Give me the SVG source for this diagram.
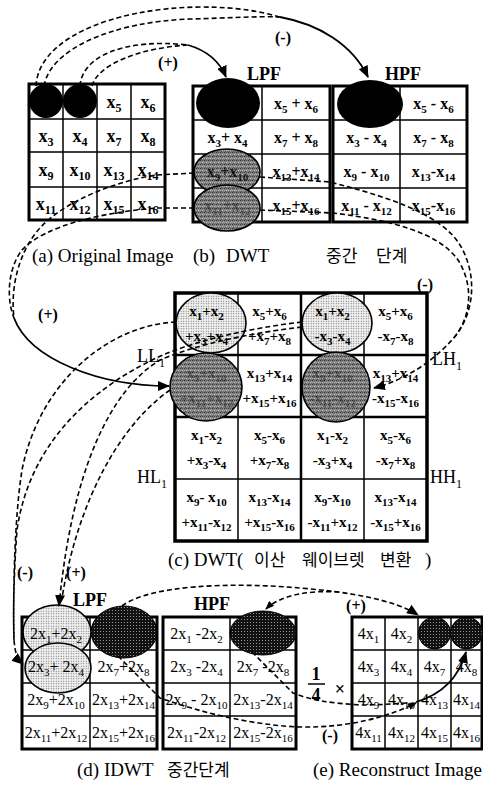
<svg xmlns="http://www.w3.org/2000/svg" width="483" height="788" viewBox="0 0 483 788">
<defs>
<style>
.bg{fill:#fff}
.ob{fill:none;stroke:#000;stroke-width:3}
.ln{fill:none;stroke:#000;stroke-width:1.5}
.lt{fill:none;stroke:#000;stroke-width:2.5}
.t{font-family:"Liberation Serif","Times New Roman",serif;font-weight:bold;text-anchor:middle;fill:#000}
.ta{font-size:18px}
.tb{font-size:16px}
.tc{font-size:15px}
.td{font-size:16px;font-weight:normal}
.s{font-size:11px}
.sa{font-size:12px}
.fade{fill:#222;opacity:0.5}
.lab{font-family:"Liberation Serif","Times New Roman",serif;font-weight:bold;font-size:18px;fill:#000}
.sub{font-family:"Liberation Serif","Times New Roman",serif;font-size:18px;fill:#000}
.pm{font-family:"Liberation Serif","Times New Roman",serif;font-weight:bold;font-size:16px;fill:#000;text-anchor:middle}
.cap{font-family:"Liberation Serif","Times New Roman",serif;font-size:19px;fill:#000}
.kr{font-family:"Noto Sans CJK KR","Noto Sans",sans-serif;font-size:17px;fill:#000}
.dash{fill:none;stroke:#000;stroke-width:1.6;stroke-dasharray:5 3}
.sol{fill:none;stroke:#000;stroke-width:1.8}
.blk{fill:#000}
.lite{fill:url(#lite);stroke:#000;stroke-width:1.6}
.gray{fill:url(#gray);stroke:#000;stroke-width:1.6}
.dark{fill:url(#dark);stroke:#000;stroke-width:1}
</style>
<pattern id="lite" width="2.5" height="2.5" patternUnits="userSpaceOnUse"><rect width="2.5" height="2.5" fill="#f2f2f2"/><circle cx="1.25" cy="1.25" r="0.6" fill="#666"/></pattern>
<pattern id="gray" width="4" height="4" patternUnits="userSpaceOnUse"><rect width="4" height="4" fill="#7c7c7c"/><rect x="0" y="0" width="1" height="1" fill="#333"/><rect x="2" y="2" width="1" height="1" fill="#c8c8c8"/><rect x="2" y="0" width="1" height="1" fill="#4a4a4a"/><rect x="0" y="2" width="1" height="1" fill="#a8a8a8"/><rect x="1" y="3" width="1" height="1" fill="#555"/><rect x="3" y="1" width="1" height="1" fill="#999"/></pattern>
<pattern id="dark" width="3" height="3" patternUnits="userSpaceOnUse"><rect width="3" height="3" fill="#111"/><circle cx="1.5" cy="1.5" r="0.55" fill="#aaa"/></pattern>
<marker id="ah" viewBox="0 0 12 10" refX="11" refY="5" markerWidth="12" markerHeight="10" markerUnits="userSpaceOnUse" orient="auto"><path d="M0,0 L12,5 L0,10 z"/></marker>
<marker id="ahs" viewBox="0 0 10 8" refX="9" refY="4" markerWidth="9" markerHeight="7" markerUnits="userSpaceOnUse" orient="auto-start-reverse"><path d="M0,0 L10,4 L0,8 z"/></marker>
</defs>

<rect width="483" height="788" fill="#fff"/>

<!-- (a) Original image -->
<g id="grid-a">
<rect x="29" y="84" width="136" height="136" class="bg"/>
<path class="ln" d="M63,84V220M97,84V220M131,84V220M29,119H165M29,152H165M29,187H165"/>
<rect x="29" y="84" width="136" height="136" class="ob"/>
<circle cx="46" cy="101" r="17" class="blk"/>
<circle cx="80" cy="101" r="17" class="blk"/>
<text class="t ta" x="114" y="108">x<tspan class="sa" dy="4">5</tspan></text>
<text class="t ta" x="148" y="108">x<tspan class="sa" dy="4">6</tspan></text>
<text class="t ta" x="46" y="142">x<tspan class="sa" dy="4">3</tspan></text>
<text class="t ta" x="80" y="142">x<tspan class="sa" dy="4">4</tspan></text>
<text class="t ta" x="114" y="142">x<tspan class="sa" dy="4">7</tspan></text>
<text class="t ta" x="148" y="142">x<tspan class="sa" dy="4">8</tspan></text>
<text class="t ta" x="46" y="176">x<tspan class="sa" dy="4">9</tspan></text>
<text class="t ta" x="80" y="176">x<tspan class="sa" dy="4">10</tspan></text>
<text class="t ta" x="114" y="176">x<tspan class="sa" dy="4">13</tspan></text>
<text class="t ta" x="148" y="176">x<tspan class="sa" dy="4">14</tspan></text>
<text class="t ta" x="46" y="210">x<tspan class="sa" dy="4">11</tspan></text>
<text class="t ta" x="80" y="210">x<tspan class="sa" dy="4">12</tspan></text>
<text class="t ta" x="114" y="210">x<tspan class="sa" dy="4">15</tspan></text>
<text class="t ta" x="148" y="210">x<tspan class="sa" dy="4">16</tspan></text>
</g>

<!-- (b) LPF -->
<g id="grid-b-lpf">
<rect x="193" y="86" width="137" height="136" class="bg"/>
<path class="ln" d="M262,86V222M193,120H330M193,154H330M193,188H330"/>
<rect x="193" y="86" width="137" height="136" class="ob"/>
<ellipse cx="228" cy="103" rx="32" ry="25" class="blk"/>
<ellipse cx="227" cy="172" rx="33" ry="23" class="gray"/>
<ellipse cx="227" cy="208" rx="33" ry="23" class="gray"/>
<text class="t tb" x="296" y="109">x<tspan class="s" dy="4">5</tspan><tspan dy="-4"> + x</tspan><tspan class="s" dy="4">6</tspan></text>
<text class="t tb" x="227.5" y="143">x<tspan class="s" dy="4">3</tspan><tspan dy="-4">+ x</tspan><tspan class="s" dy="4">4</tspan></text>
<text class="t tb" x="296" y="143">x<tspan class="s" dy="4">7</tspan><tspan dy="-4"> + x</tspan><tspan class="s" dy="4">8</tspan></text>
<text class="t tb" x="227.5" y="177" fill-opacity="0.85">x<tspan class="s" dy="4">9</tspan><tspan dy="-4">+x</tspan><tspan class="s" dy="4">10</tspan></text>
<text class="t tb" x="296" y="177">x<tspan class="s" dy="4">13</tspan><tspan dy="-4">+x</tspan><tspan class="s" dy="4">14</tspan></text>
<text class="t tb fade" x="227.5" y="211">x<tspan class="s" dy="4">11</tspan><tspan dy="-4">+x</tspan><tspan class="s" dy="4">12</tspan></text>
<text class="t tb" x="296" y="211">x<tspan class="s" dy="4">15</tspan><tspan dy="-4">+x</tspan><tspan class="s" dy="4">16</tspan></text>
<text class="lab" x="247" y="80">LPF</text>
</g>

<!-- (b) HPF -->
<g id="grid-b-hpf">
<rect x="333" y="86" width="134" height="136" class="bg"/>
<path class="ln" d="M400,86V222M333,120H467M333,154H467M333,188H467"/>
<rect x="333" y="86" width="134" height="136" class="ob"/>
<ellipse cx="370" cy="104" rx="33" ry="24" class="blk"/>
<text class="t tb" x="433.5" y="109">x<tspan class="s" dy="4">5</tspan><tspan dy="-4"> - x</tspan><tspan class="s" dy="4">6</tspan></text>
<text class="t tb" x="366.5" y="143">x<tspan class="s" dy="4">3</tspan><tspan dy="-4"> - x</tspan><tspan class="s" dy="4">4</tspan></text>
<text class="t tb" x="433.5" y="143">x<tspan class="s" dy="4">7</tspan><tspan dy="-4"> - x</tspan><tspan class="s" dy="4">8</tspan></text>
<text class="t tb" x="366.5" y="177">x<tspan class="s" dy="4">9</tspan><tspan dy="-4"> - x</tspan><tspan class="s" dy="4">10</tspan></text>
<text class="t tb" x="433.5" y="177">x<tspan class="s" dy="4">13</tspan><tspan dy="-4">-x</tspan><tspan class="s" dy="4">14</tspan></text>
<text class="t tb" x="366.5" y="211">x<tspan class="s" dy="4">11</tspan><tspan dy="-4"> - x</tspan><tspan class="s" dy="4">12</tspan></text>
<text class="t tb" x="433.5" y="211">x<tspan class="s" dy="4">15</tspan><tspan dy="-4">-x</tspan><tspan class="s" dy="4">16</tspan></text>
<text class="lab" x="385" y="80">HPF</text>
</g>

<!-- (c) DWT -->
<g id="grid-c-dwt">
<rect x="175" y="293" width="252" height="248" class="bg"/>
<path class="ln" d="M238,293V541M364,293V541M175,479H427"/>
<path class="lt" d="M301,293V541M175,355H427M175,417H427"/>
<rect x="175" y="293" width="252" height="248" class="ob" style="stroke-width:3.5"/>
<ellipse cx="211" cy="323" rx="35" ry="30" class="lite"/>
<ellipse cx="337" cy="323" rx="35" ry="30" class="lite"/>
<ellipse cx="206" cy="387" rx="36" ry="34" class="gray"/>
<ellipse cx="336" cy="387" rx="34" ry="35" class="gray"/>
<!-- row 1 -->
<text class="t tc" x="206.5" y="316">x<tspan class="s" dy="4">1</tspan><tspan dy="-4">+x</tspan><tspan class="s" dy="4">2</tspan></text>
<text class="t tc" x="206.5" y="341">+x<tspan class="s" dy="4">3</tspan><tspan dy="-4">+x</tspan><tspan class="s" dy="4">4</tspan></text>
<text class="t tc" x="269.5" y="316">x<tspan class="s" dy="4">5</tspan><tspan dy="-4">+x</tspan><tspan class="s" dy="4">6</tspan></text>
<text class="t tc" x="269.5" y="341">+x<tspan class="s" dy="4">7</tspan><tspan dy="-4">+x</tspan><tspan class="s" dy="4">8</tspan></text>
<text class="t tc" x="332.5" y="316">x<tspan class="s" dy="4">1</tspan><tspan dy="-4">+x</tspan><tspan class="s" dy="4">2</tspan></text>
<text class="t tc" x="332.5" y="341">-x<tspan class="s" dy="4">3</tspan><tspan dy="-4">-x</tspan><tspan class="s" dy="4">4</tspan></text>
<text class="t tc" x="395.5" y="316">x<tspan class="s" dy="4">5</tspan><tspan dy="-4">+x</tspan><tspan class="s" dy="4">6</tspan></text>
<text class="t tc" x="395.5" y="341">-x<tspan class="s" dy="4">7</tspan><tspan dy="-4">-x</tspan><tspan class="s" dy="4">8</tspan></text>
<!-- row 2 -->
<text class="t tc fade" x="206.5" y="378">x<tspan class="s" dy="4">9</tspan><tspan dy="-4">+x</tspan><tspan class="s" dy="4">10</tspan></text>
<text class="t tc fade" x="206.5" y="403">+x<tspan class="s" dy="4">11</tspan><tspan dy="-4">+x</tspan><tspan class="s" dy="4">12</tspan></text>
<text class="t tc" x="269.5" y="378">x<tspan class="s" dy="4">13</tspan><tspan dy="-4">+x</tspan><tspan class="s" dy="4">14</tspan></text>
<text class="t tc" x="269.5" y="403">+x<tspan class="s" dy="4">15</tspan><tspan dy="-4">+x</tspan><tspan class="s" dy="4">16</tspan></text>
<text class="t tc fade" x="332.5" y="378">x<tspan class="s" dy="4">9</tspan><tspan dy="-4">+x</tspan><tspan class="s" dy="4">10</tspan></text>
<text class="t tc fade" x="332.5" y="403">-x<tspan class="s" dy="4">11</tspan><tspan dy="-4">-x</tspan><tspan class="s" dy="4">12</tspan></text>
<text class="t tc" x="395.5" y="378">x<tspan class="s" dy="4">13</tspan><tspan dy="-4">+x</tspan><tspan class="s" dy="4">14</tspan></text>
<text class="t tc" x="395.5" y="403">-x<tspan class="s" dy="4">15</tspan><tspan dy="-4">-x</tspan><tspan class="s" dy="4">16</tspan></text>
<!-- row 3 -->
<text class="t tc" x="206.5" y="440">x<tspan class="s" dy="4">1</tspan><tspan dy="-4">-x</tspan><tspan class="s" dy="4">2</tspan></text>
<text class="t tc" x="206.5" y="465">+x<tspan class="s" dy="4">3</tspan><tspan dy="-4">-x</tspan><tspan class="s" dy="4">4</tspan></text>
<text class="t tc" x="269.5" y="440">x<tspan class="s" dy="4">5</tspan><tspan dy="-4">-x</tspan><tspan class="s" dy="4">6</tspan></text>
<text class="t tc" x="269.5" y="465">+x<tspan class="s" dy="4">7</tspan><tspan dy="-4">-x</tspan><tspan class="s" dy="4">8</tspan></text>
<text class="t tc" x="332.5" y="440">x<tspan class="s" dy="4">1</tspan><tspan dy="-4">-x</tspan><tspan class="s" dy="4">2</tspan></text>
<text class="t tc" x="332.5" y="465">-x<tspan class="s" dy="4">3</tspan><tspan dy="-4">+x</tspan><tspan class="s" dy="4">4</tspan></text>
<text class="t tc" x="395.5" y="440">x<tspan class="s" dy="4">5</tspan><tspan dy="-4">-x</tspan><tspan class="s" dy="4">6</tspan></text>
<text class="t tc" x="395.5" y="465">-x<tspan class="s" dy="4">7</tspan><tspan dy="-4">+x</tspan><tspan class="s" dy="4">8</tspan></text>
<!-- row 4 -->
<text class="t tc" x="206.5" y="502">x<tspan class="s" dy="4">9</tspan><tspan dy="-4">- x</tspan><tspan class="s" dy="4">10</tspan></text>
<text class="t tc" x="206.5" y="527">+x<tspan class="s" dy="4">11</tspan><tspan dy="-4">-x</tspan><tspan class="s" dy="4">12</tspan></text>
<text class="t tc" x="269.5" y="502">x<tspan class="s" dy="4">13</tspan><tspan dy="-4">-x</tspan><tspan class="s" dy="4">14</tspan></text>
<text class="t tc" x="269.5" y="527">+x<tspan class="s" dy="4">15</tspan><tspan dy="-4">-x</tspan><tspan class="s" dy="4">16</tspan></text>
<text class="t tc" x="332.5" y="502">x<tspan class="s" dy="4">9</tspan><tspan dy="-4">-x</tspan><tspan class="s" dy="4">10</tspan></text>
<text class="t tc" x="332.5" y="527">-x<tspan class="s" dy="4">11</tspan><tspan dy="-4">+x</tspan><tspan class="s" dy="4">12</tspan></text>
<text class="t tc" x="395.5" y="502">x<tspan class="s" dy="4">13</tspan><tspan dy="-4">-x</tspan><tspan class="s" dy="4">14</tspan></text>
<text class="t tc" x="395.5" y="527">-x<tspan class="s" dy="4">15</tspan><tspan dy="-4">+x</tspan><tspan class="s" dy="4">16</tspan></text>
<!-- subband labels -->
<text class="sub" x="137" y="362">LL<tspan font-size="12" dy="5">1</tspan></text>
<text class="sub" x="432" y="365">LH<tspan font-size="12" dy="5">1</tspan></text>
<text class="sub" x="137" y="483">HL<tspan font-size="12" dy="5">1</tspan></text>
<text class="sub" x="430" y="483">HH<tspan font-size="12" dy="5">1</tspan></text>
</g>

<!-- (d) IDWT LPF -->
<g id="grid-d-lpf">
<rect x="22" y="617" width="135" height="132" class="bg"/>
<path class="ln" d="M90,617V749M22,650H157M22,683H157M22,716H157"/>
<rect x="22" y="617" width="135" height="132" class="ob"/>
<ellipse cx="57" cy="632" rx="34" ry="27" class="lite"/>
<ellipse cx="58" cy="668" rx="33" ry="25" class="lite"/>
<ellipse cx="124" cy="632" rx="33" ry="26" class="dark"/>
<text class="t td" x="56" y="639">2x<tspan class="s" dy="4">1</tspan><tspan dy="-4">+2x</tspan><tspan class="s" dy="4">2</tspan></text>
<text class="t td" x="56" y="672">2x<tspan class="s" dy="4">3</tspan><tspan dy="-4">+ 2x</tspan><tspan class="s" dy="4">4</tspan></text>
<text class="t td" x="123.5" y="672">2x<tspan class="s" dy="4">7</tspan><tspan dy="-4">+2x</tspan><tspan class="s" dy="4">8</tspan></text>
<text class="t td" x="56" y="705">2x<tspan class="s" dy="4">9</tspan><tspan dy="-4">+2x</tspan><tspan class="s" dy="4">10</tspan></text>
<text class="t td" x="123.5" y="705">2x<tspan class="s" dy="4">13</tspan><tspan dy="-4">+2x</tspan><tspan class="s" dy="4">14</tspan></text>
<text class="t td" x="56" y="738">2x<tspan class="s" dy="4">11</tspan><tspan dy="-4">+2x</tspan><tspan class="s" dy="4">12</tspan></text>
<text class="t td" x="123.5" y="738">2x<tspan class="s" dy="4">15</tspan><tspan dy="-4">+2x</tspan><tspan class="s" dy="4">16</tspan></text>
<text class="lab" x="73" y="606">LPF</text>
</g>

<!-- (d) IDWT HPF -->
<g id="grid-d-hpf">
<rect x="163" y="617" width="133" height="132" class="bg"/>
<path class="ln" d="M230,617V749M163,650H296M163,683H296M163,716H296"/>
<rect x="163" y="617" width="133" height="132" class="ob"/>
<ellipse cx="263" cy="633" rx="33" ry="22" class="dark"/>
<text class="t td" x="196.5" y="639">2x<tspan class="s" dy="4">1</tspan><tspan dy="-4"> -2x</tspan><tspan class="s" dy="4">2</tspan></text>
<text class="t td" x="196.5" y="672">2x<tspan class="s" dy="4">3</tspan><tspan dy="-4"> -2x</tspan><tspan class="s" dy="4">4</tspan></text>
<text class="t td" x="263" y="672">2x<tspan class="s" dy="4">7</tspan><tspan dy="-4"> -2x</tspan><tspan class="s" dy="4">8</tspan></text>
<text class="t td" x="196.5" y="705">2x<tspan class="s" dy="4">9</tspan><tspan dy="-4"> - 2x</tspan><tspan class="s" dy="4">10</tspan></text>
<text class="t td" x="263" y="705">2x<tspan class="s" dy="4">13</tspan><tspan dy="-4">-2x</tspan><tspan class="s" dy="4">14</tspan></text>
<text class="t td" x="196.5" y="738">2x<tspan class="s" dy="4">11</tspan><tspan dy="-4">-2x</tspan><tspan class="s" dy="4">12</tspan></text>
<text class="t td" x="263" y="738">2x<tspan class="s" dy="4">15</tspan><tspan dy="-4">-2x</tspan><tspan class="s" dy="4">16</tspan></text>
<text class="lab" x="194" y="610">HPF</text>
</g>

<!-- (e) Reconstruct image -->
<g id="grid-e">
<rect x="352" y="617" width="130" height="132" class="bg"/>
<path class="ln" d="M385,617V749M418,617V749M451,617V749M352,650H482M352,683H482M352,716H482"/>
<rect x="352" y="617" width="130" height="132" class="ob"/>
<circle cx="434.5" cy="633" r="16" class="dark"/>
<circle cx="466.5" cy="633" r="16" class="dark"/>
<text class="t td" x="368.5" y="639">4x<tspan class="s" dy="4">1</tspan></text>
<text class="t td" x="401.5" y="639">4x<tspan class="s" dy="4">2</tspan></text>
<text class="t td" x="368.5" y="672">4x<tspan class="s" dy="4">3</tspan></text>
<text class="t td" x="401.5" y="672">4x<tspan class="s" dy="4">4</tspan></text>
<text class="t td" x="434.5" y="672">4x<tspan class="s" dy="4">7</tspan></text>
<text class="t td" x="466.5" y="672">4x<tspan class="s" dy="4">8</tspan></text>
<text class="t td" x="368.5" y="705">4x<tspan class="s" dy="4">9</tspan></text>
<text class="t td" x="401.5" y="705">4x<tspan class="s" dy="4">10</tspan></text>
<text class="t td" x="434.5" y="705">4x<tspan class="s" dy="4">13</tspan></text>
<text class="t td" x="466.5" y="705">4x<tspan class="s" dy="4">14</tspan></text>
<text class="t td" x="368.5" y="738">4x<tspan class="s" dy="4">11</tspan></text>
<text class="t td" x="401.5" y="738">4x<tspan class="s" dy="4">12</tspan></text>
<text class="t td" x="434.5" y="738">4x<tspan class="s" dy="4">15</tspan></text>
<text class="t td" x="466.5" y="738">4x<tspan class="s" dy="4">16</tspan></text>
</g>

<!-- connectors -->
<g id="connectors">
<path class="dash" d="M36,86 C38,40 110,8 200,7 C240,7 262,12 280,17"/>
<path class="dash" d="M44,86 C50,50 110,22 190,19 C230,18 258,16 280,17"/>
<path class="sol" d="M280,17 C318,24 352,44 368,77" marker-end="url(#ah)"/>
<path class="dash" d="M80,86 C82,56 125,38 188,45"/>
<path class="dash" d="M92,86 C98,64 140,48 188,45"/>
<path class="sol" d="M188,45 C205,50 219,60 226,77" marker-end="url(#ah)"/>

<path class="dash" d="M194,173 L157,175 C120,180 65,200 40,228 C20,250 10,285 14,318"/>
<path class="dash" d="M194,208 L157,208 C105,212 45,225 22,250 C8,268 6,298 14,318"/>
<path class="sol" d="M14,318 C30,360 100,386 169,386" marker-end="url(#ah)"/>

<path class="dash" d="M260,177 L330,182 C380,195 440,212 460,245 C478,275 475,315 452,340 C432,362 405,380 374,388" marker-end="url(#ah)"/>
<path class="dash" d="M260,210 L333,213 C390,220 438,232 458,260 C474,285 472,318 452,340"/>

<path class="dash" d="M176,322 C110,325 40,380 22,470 C14,520 13,600 14,640 C15,652 17,659 23,664" marker-end="url(#ah)"/>
<path class="dash" d="M302,322 C250,328 200,340 165,354 C95,385 30,440 17,530 C14,570 13,610 14,640"/>
<path class="dash" d="M302,327 C250,333 195,345 160,360 C110,390 72,470 59,606" marker-end="url(#ah)"/>
<path class="dash" d="M170,390 C120,425 78,500 62,598"/>

<path class="dash" d="M122,606 C150,585 230,582 300,588 C350,592 395,600 418,615" marker-end="url(#ah)"/>
<path class="dash" d="M266,609 C280,595 310,590 340,592" marker-start="url(#ahs)"/>
<path class="dash" d="M118,656 L160,698 C200,712 250,725 300,727 C350,728 390,716 416,703" marker-end="url(#ahs)"/>
<path class="dash" d="M252,652 L293,693 C310,700 330,703 360,705 C385,705 400,703 410,703"/>
<path class="sol" d="M416,702 C440,695 458,680 466,652" marker-end="url(#ah)"/>
</g>

<!-- operator labels -->
<g id="labels">
<text class="pm" x="168" y="68">(+)</text>
<text class="pm" x="283" y="43">(-)</text>
<text class="pm" x="48" y="320">(+)</text>
<text class="pm" x="425" y="290">(-)</text>
<text class="pm" x="25" y="578">(-)</text>
<text class="pm" x="76" y="578">(+)</text>
<text class="pm" x="356" y="611">(+)</text>
<text class="pm" x="330" y="741">(-)</text>
<text class="pm" x="316" y="680" style="font-size:18px">1</text>
<path d="M308,684H325" stroke="#000" stroke-width="1.5"/>
<text class="pm" x="316" y="701" style="font-size:18px">4</text>
<text class="pm" x="340" y="695" style="font-size:18px">×</text>
</g>

<!-- captions -->
<g id="captions">
<text class="cap" x="32" y="262">(a) Original Image</text>
<text class="cap" x="193" y="262">(b)</text>
<text class="cap" x="226" y="262">DWT</text>
<text class="kr" x="326" y="262">중간</text>
<text class="kr" x="376" y="262">단계</text>
<text class="cap" x="168" y="566">(c) DWT(</text>
<text class="kr" x="254" y="566">이산</text>
<text class="kr" x="302" y="566">웨이브렛</text>
<text class="kr" x="380" y="566">변환</text>
<text class="cap" x="425" y="566">)</text>
<text class="cap" x="77" y="776">(d) IDWT</text>
<text class="kr" x="167" y="776">중간단계</text>
<text class="cap" x="313" y="776">(e) Reconstruct Image</text>
</g>
</svg>
